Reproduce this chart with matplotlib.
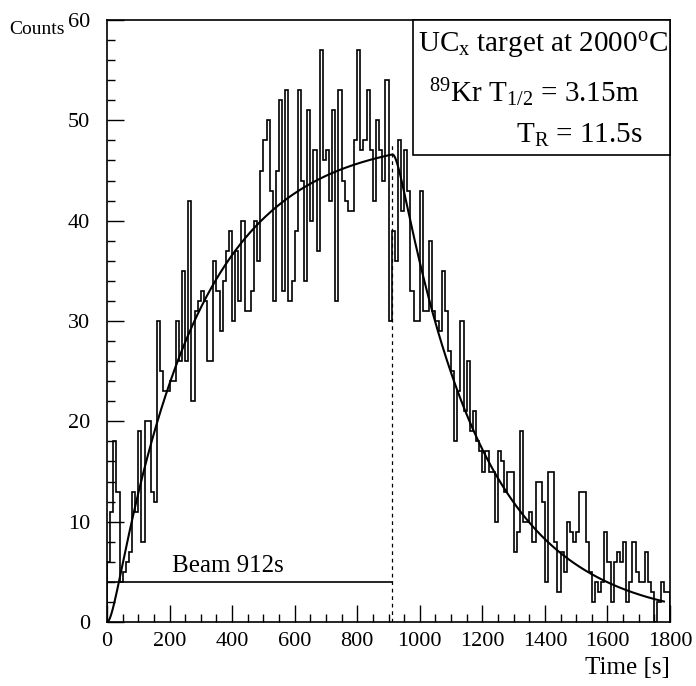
import numpy as np
import matplotlib
matplotlib.use("Agg")  # no display
import matplotlib.pyplot as plt
from matplotlib.ticker import MultipleLocator

plt.rcParams["font.family"] = ["Liberation Serif", "DejaVu Serif"]
plt.rcParams["mathtext.fontset"] = "custom"
plt.rcParams["mathtext.rm"] = "Liberation Serif"
plt.rcParams["mathtext.it"] = "Liberation Serif:italic"

# ---------------------------------------------------------------------------
# Data: 10 s bins from 0 to 1800 s
# ---------------------------------------------------------------------------
counts_rise = [6, 11, 18, 13, 4, 5, 6, 7, 13, 11, 19, 8, 20, 20, 13, 12, 30, 25,
               23, 23, 24, 24, 30, 26, 35, 26, 42, 22, 31, 32, 33, 32, 26, 26,
               36, 33, 29, 34, 37, 39, 30, 37, 32, 40]
counts_top = [31, 31, 33, 40, 36, 45, 48, 50, 43, 32, 45, 52, 33, 53, 32, 34,
              39, 53, 44, 34, 51, 40, 47, 37, 57, 46, 47, 42, 51, 32, 53, 44,
              42, 41, 41, 48, 57, 47, 48, 53, 47, 42, 50, 47, 44, 54]
counts_fall = [30, 39, 36, 48, 41, 47, 43, 33, 30, 30, 43, 31, 31, 38, 31, 30,
               29, 35, 31, 27, 25, 18, 23, 30, 21, 26, 19, 21, 18, 17, 15, 17,
               15, 15, 10, 17, 16, 13, 15, 15, 7, 9, 19]
counts_tail = [10, 10, 11, 8, 14, 14, 12, 4, 15, 15, 8, 3, 7, 5, 10, 9, 8, 9,
               13, 13, 8, 5, 2, 4, 3, 4, 9, 6, 2, 6, 7, 6, 8, 2, 4, 8, 5, 4, 4,
               7, 4, 3, 0, 2, 4, 3, 3]
counts = counts_rise + counts_top + counts_fall + counts_tail

bin_width = 10
t_max = 1800
beam_time = 912      # s
t_half = 3.15 * 60   # s
t_release = 11.5     # s
fit_peak = 46.6
beam_level = 4


def release_curve(t_grid):
    # holdup in target -> released Kr, beam on until beam_time
    lam = np.log(2) / t_half
    lam_r = np.log(2) / t_release
    n1 = 0.0
    n2 = 0.0
    out = []
    dt = t_grid[1] - t_grid[0]
    for t in t_grid:
        out.append(n2)
        prod = 1.0 if t < beam_time else 0.0
        dn1 = prod - (lam + lam_r) * n1
        dn2 = lam_r * n1 - lam * n2
        n1 += dn1 * dt
        n2 += dn2 * dt
    out = np.array(out)
    return out / out.max() * fit_peak


edges = np.arange(0, t_max + bin_width, bin_width)
t_fit = np.arange(0, 1781, 0.5)
y_fit = release_curve(t_fit)

# ---------------------------------------------------------------------------
# Plot
# ---------------------------------------------------------------------------
fig = plt.figure(figsize=(6.96, 6.86), dpi=100)
ax = fig.add_axes([107 / 696, 1 - 622 / 686, 563 / 696, 602 / 686])

ax.stairs(counts, edges, color="black", lw=1.2)
ax.plot(t_fit, y_fit, color="black", lw=1.5)

ax.plot([0, beam_time], [beam_level, beam_level], color="black", lw=1.2)
ax.plot([beam_time, beam_time], [0, 47.8], color="black", lw=0.9,
        ls=(0, (3, 3)))
ax.text(387, beam_level + 0.45, "Beam 912s", fontsize=18, ha="center",
        va="bottom")

ax.set_xlim(0, t_max)
ax.set_ylim(0, 60)
ax.xaxis.set_major_locator(MultipleLocator(200))
ax.xaxis.set_minor_locator(MultipleLocator(50))
ax.yaxis.set_major_locator(MultipleLocator(10))
ax.yaxis.set_minor_locator(MultipleLocator(2))
ax.tick_params(which="both", direction="in", top=False, right=False,
               labelsize=16, width=1.0)
ax.tick_params(which="major", length=12)
ax.tick_params(which="minor", length=6)
ax.tick_params(axis="x", which="major", pad=7)
ax.tick_params(axis="y", which="major", pad=12)
for s in ax.spines.values():
    s.set_linewidth(1.2)

fig.text(670 / 696, 1 - 668 / 686, "Time [s]", fontsize=18, ha="right",
         va="center")
fig.text(37 / 696, 1 - 30 / 686, "Counts", fontsize=14, ha="center",
         va="center")

# info box in the top right corner
box_left, box_bottom = 413, 155
box = plt.Rectangle((box_left / 696, 1 - box_bottom / 686),
                    (670 - box_left) / 696, (box_bottom - 20) / 686,
                    transform=fig.transFigure, facecolor="white",
                    edgecolor="black", lw=1.2, zorder=5)
fig.add_artist(box)
fig.text(543 / 696, 1 - 45 / 686,
         r"UC$_{\mathrm{x}}$ target at 2000$^{\mathrm{o}}$C",
         fontsize=21, ha="center", va="center", zorder=6)
fig.text(534 / 696, 1 - 93 / 686, r"$^{89}$Kr T$_{1/2}$ = 3.15m",
         fontsize=21, ha="center", va="center", zorder=6)
fig.text(643 / 696, 1 - 135 / 686, r"T$_{\mathrm{R}}$ = 11.5s",
         fontsize=21, ha="right", va="center", zorder=6)

fig.savefig("out.png", dpi=100, facecolor="white")
